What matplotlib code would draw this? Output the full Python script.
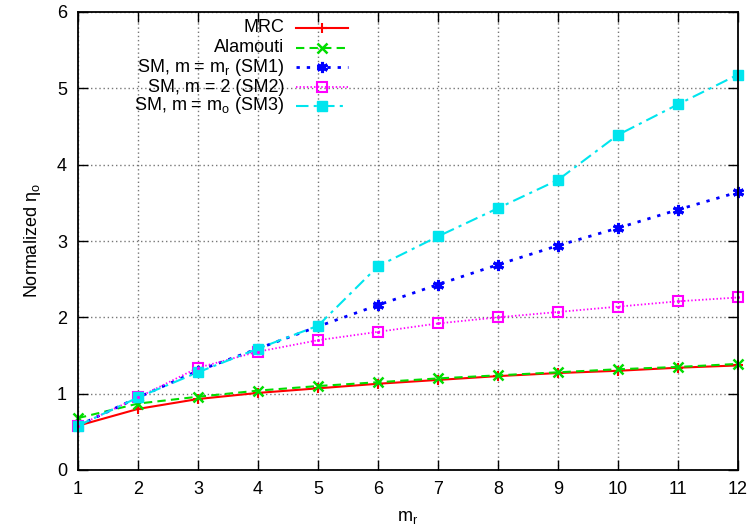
import matplotlib
matplotlib.use("Agg")
import matplotlib.pyplot as plt
from matplotlib.lines import Line2D
from matplotlib.patches import Rectangle

plt.rcParams['font.family'] = ['Liberation Sans', 'DejaVu Sans']
plt.rcParams['mathtext.fontset'] = 'custom'
plt.rcParams['mathtext.rm'] = 'Liberation Sans'
plt.rcParams['mathtext.it'] = 'Liberation Sans'

m_r = [1, 2, 3, 4, 5, 6, 7, 8, 9, 10, 11, 12]
mrc = [0.58, 0.80, 0.93, 1.01, 1.07, 1.13, 1.18, 1.23, 1.27, 1.30, 1.34, 1.37]
alamouti = [0.68, 0.87, 0.96, 1.04, 1.10, 1.15, 1.20, 1.24, 1.28, 1.32, 1.35, 1.39]
sm1 = [0.58, 0.95, 1.30, 1.59, 1.88, 2.16, 2.43, 2.69, 2.94, 3.17, 3.41, 3.64]
sm2 = [0.58, 0.95, 1.34, 1.55, 1.70, 1.81, 1.92, 2.00, 2.07, 2.14, 2.21, 2.26]
sm3 = [0.58, 0.95, 1.28, 1.59, 1.89, 2.67, 3.06, 3.43, 3.80, 4.39, 4.79, 5.18]
labels = ['MRC', 'Alamouti', r'SM, m = m$_\mathrm{r}$ (SM1)', 'SM, m = 2 (SM2)',
          r'SM, m = m$_\mathrm{o}$ (SM3)']

fig = plt.figure(figsize=(7.52, 5.29), dpi=100)
ax = fig.add_axes([78/752, 1 - 470/529, (738-78)/752, (470-12)/529])

styles = [
    dict(color='#ff0000', ls='-', lw=1.5, marker='+', ms=7, mew=1.5),
    dict(color='#00dd00', ls=(0, (4, 2.5)), lw=1.5, marker='x', ms=7, mew=1.8),
    dict(color='#0000ff', ls=(0, (1.2, 2.5)), lw=2.0, marker=(6, 2, 0), ms=8, mew=2.2),
    dict(color='#ff00ff', ls=(0, (0.8, 1.2)), lw=1.3, marker='s', ms=7, mfc='none', mew=1.5),
    dict(color='#00e5ee', ls=(0, (6, 2.5, 1.5, 2.5)), lw=1.5, marker='s', ms=7, mew=1),
]
series = [mrc, alamouti, sm1, sm2, sm3]
for y, st in zip(series, styles):
    ax.plot(m_r, y, clip_on=False, **st)
ax.plot(m_r, sm2, ls='none', marker='.', ms=2.5, color='#ff00ff', clip_on=False)

ax.set_xlim(1, 12)
ax.set_ylim(0, 6)
ax.set_xticks(m_r)
ax.set_yticks([0, 1, 2, 3, 4, 5, 6])
ax.grid(True, color='#777777', ls=(0, (1, 2)), lw=1.0)
ax.tick_params(direction='in', top=True, right=True, length=7, width=1, labelsize=13, pad=8)
for s in ax.spines.values():
    s.set_linewidth(1.3)
ax.set_xlabel(r'm$_\mathrm{r}$', fontsize=13, labelpad=8)
ax.set_ylabel(r'Normalized η$_\mathrm{o}$', fontsize=13, labelpad=10)

ys = [28, 48, 67, 87, 106]
for lab, st, ypx in zip(labels, styles, ys):
    yf = 1 - ypx / 529
    fig.text(284/752, yf, lab, ha='right', va='center', fontsize=13)
    ln = Line2D([296/752, 348/752], [yf, yf], transform=fig.transFigure,
                color=st['color'], ls=st['ls'], lw=st['lw'])
    fig.add_artist(ln)
    mk = Line2D([322/752], [yf], transform=fig.transFigure, ls='none',
                color=st['color'], marker=st['marker'], ms=st['ms'],
                mew=st['mew'], mfc=st.get('mfc', st['color']))
    fig.add_artist(mk)

bg = Rectangle((150/752, 1 - 116/529), (352-150)/752, (116-18)/529,
               transform=fig.transFigure, facecolor='white', edgecolor='none', zorder=0.5)
ax.add_artist(bg)

fig.savefig('out.png', dpi=100)
